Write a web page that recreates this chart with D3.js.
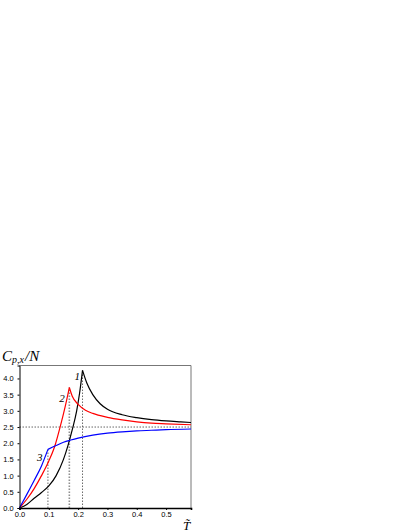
<!DOCTYPE html>
<html>
<head>
<meta charset="utf-8">
<script src="https://cdn.jsdelivr.net/npm/d3@7"></script>
<style>
  body { margin: 0; background: #fff; }
  svg { display: block; }
</style>
</head>
<body>
<div id="chart"></div>
<script>
// page size and plot box
const width = 411;
const height = 532;
const margin = {left: 19.5, right: 220, top: 365.5, bottom: 24};

// x / y ticks
const xTicks = [0, 0.1, 0.2, 0.3, 0.4, 0.5];
const yTicks = [0, 0.5, 1, 1.5, 2, 2.5, 3, 3.5, 4];

// curve 1 (black)
const black1X = [0, 0.025, 0.05, 0.075, 0.1, 0.125, 0.15, 0.165, 0.18, 0.195, 0.205, 0.215];
const black1Y = [0, 0.11, 0.3, 0.48, 0.68, 1.0, 1.5, 1.92, 2.42, 3.0, 3.55, 4.25];
const black2X = [0.215, 0.23, 0.25, 0.275, 0.3, 0.35, 0.4, 0.45, 0.5, 0.55, 0.585];
const black2Y = [4.25, 3.85, 3.5, 3.22, 3.05, 2.88, 2.79, 2.73, 2.69, 2.66, 2.64];

// curve 2 (red)
const red1X = [0, 0.025, 0.05, 0.075, 0.1, 0.12, 0.14, 0.155, 0.17];
const red1Y = [0, 0.27, 0.6, 1.0, 1.45, 1.9, 2.55, 3.1, 3.72];
const red2X = [0.17, 0.18, 0.2, 0.225, 0.25, 0.3, 0.35, 0.4, 0.45, 0.5, 0.585];
const red2Y = [3.72, 3.45, 3.2, 3.02, 2.92, 2.8, 2.72, 2.66, 2.62, 2.6, 2.57];

// curve 3 (blue)
const blue1X = [0, 0.025, 0.05, 0.075, 0.097];
const blue1Y = [0, 0.42, 0.85, 1.3, 1.81];
const blue2X = [0.097, 0.125, 0.15, 0.175, 0.2, 0.25, 0.3, 0.35, 0.4, 0.45, 0.5, 0.585];
const blue2Y = [1.81, 1.93, 2.03, 2.1, 2.16, 2.25, 2.31, 2.35, 2.38, 2.4, 2.42, 2.44];

// marked points: peaks / kink and the 2.5 level
const peakX = [0.097, 0.17, 0.215];
const peakY = [1.81, 3.72, 4.25];
const levelY = 2.5;

const svg = d3.select("#chart")
  .append("svg")
  .attr("width", width)
  .attr("height", height);

const xScale = d3.scaleLinear()
  .domain([0, 0.585])
  .range([margin.left, width - margin.right]);

const yScale = d3.scaleLinear()
  .domain([0, 4.4])
  .range([height - margin.bottom, margin.top]);

const x0 = xScale(0), x1 = xScale(0.585);
const y0 = yScale(0), y1 = yScale(4.4);

// frame top/right
svg.append("path")
  .attr("d", `M${x0},${y1}H${x1}V${y0}`)
  .attr("fill", "none")
  .attr("stroke", "#777")
  .attr("stroke-width", 1);

// dotted guides
svg.append("line")
  .attr("x1", x0).attr("x2", x1)
  .attr("y1", yScale(levelY)).attr("y2", yScale(levelY))
  .attr("stroke", "#555").attr("stroke-width", 0.9)
  .attr("stroke-dasharray", "1.5,1.5");

svg.selectAll(".vguide")
  .data(peakX)
  .enter()
  .append("line")
    .attr("class", "vguide")
    .attr("x1", d => xScale(d)).attr("x2", d => xScale(d))
    .attr("y1", y0)
    .attr("y2", (d, i) => yScale(peakY[i]))
    .attr("stroke", "#444")
    .attr("stroke-width", (d, i) => i === 1 ? 1.6 : 0.8)
    .attr("stroke-opacity", (d, i) => i === 1 ? 0.6 : 1)
    .attr("stroke-dasharray", "1.5,1.5");

// curves
const line = d3.line()
  .x(d => xScale(d[0]))
  .y(d => yScale(d[1]))
  .curve(d3.curveMonotoneX);

const series = [
  {xs: black1X, ys: black1Y, color: "#000"},
  {xs: black2X, ys: black2Y, color: "#000"},
  {xs: red1X, ys: red1Y, color: "#ff0000"},
  {xs: red2X, ys: red2Y, color: "#ff0000"},
  {xs: blue1X, ys: blue1Y, color: "#0000ff"},
  {xs: blue2X, ys: blue2Y, color: "#0000ff"}
];

svg.selectAll(".curve")
  .data(series)
  .enter()
  .append("path")
    .attr("class", "curve")
    .attr("d", s => line(s.xs.map((x, i) => [x, s.ys[i]])))
    .attr("fill", "none")
    .attr("stroke", s => s.color)
    .attr("stroke-width", 1.2);

// axes
const xAxis = svg.append("g")
  .attr("transform", `translate(0,${y0})`)
  .call(d3.axisBottom(xScale).tickValues(xTicks).tickSize(2)
          .tickFormat(d3.format(".1f")));
xAxis.select(".domain").attr("stroke-width", 1.6);

const yAxis = svg.append("g")
  .attr("transform", `translate(${x0},0)`)
  .call(d3.axisLeft(yScale).tickValues(yTicks).tickSize(2)
          .tickFormat(d3.format(".1f")));

svg.selectAll(".tick text")
  .attr("font-family", "Liberation Sans, Arial, sans-serif")
  .attr("font-size", "7.5px")
  .attr("fill", "#000");
xAxis.selectAll(".tick text").attr("dy", "0.5em");
yAxis.selectAll(".tick text").attr("dx", "-0.1em");

// curve numbers
const labelFont = "Liberation Serif, Times New Roman, serif";
const numLabels = [
  {t: "1", x: 0.188, y: 3.95},
  {t: "2", x: 0.136, y: 3.27},
  {t: "3", x: 0.06, y: 1.44}
];
svg.selectAll(".num")
  .data(numLabels)
  .enter()
  .append("text")
    .attr("class", "num")
    .attr("x", d => xScale(d.x))
    .attr("y", d => yScale(d.y))
    .attr("font-family", labelFont)
    .attr("font-style", "italic")
    .attr("font-size", "11px")
    .text(d => d.t);

// axis titles
const yTitle = svg.append("text")
  .attr("x", 2)
  .attr("y", 361)
  .attr("font-family", labelFont)
  .attr("font-style", "italic")
  .attr("font-size", "15px");
yTitle.append("tspan").text("C");
yTitle.append("tspan").attr("font-size", "10px").attr("dy", "2").text("p,x");
yTitle.append("tspan").attr("dx", "1").attr("dy", "-2").text("/N");

svg.append("text")
  .attr("x", 183)
  .attr("y", 530)
  .attr("font-family", labelFont)
  .attr("font-style", "italic")
  .attr("font-size", "13px")
  .text("T\u0303");
</script>
</body>
</html>
